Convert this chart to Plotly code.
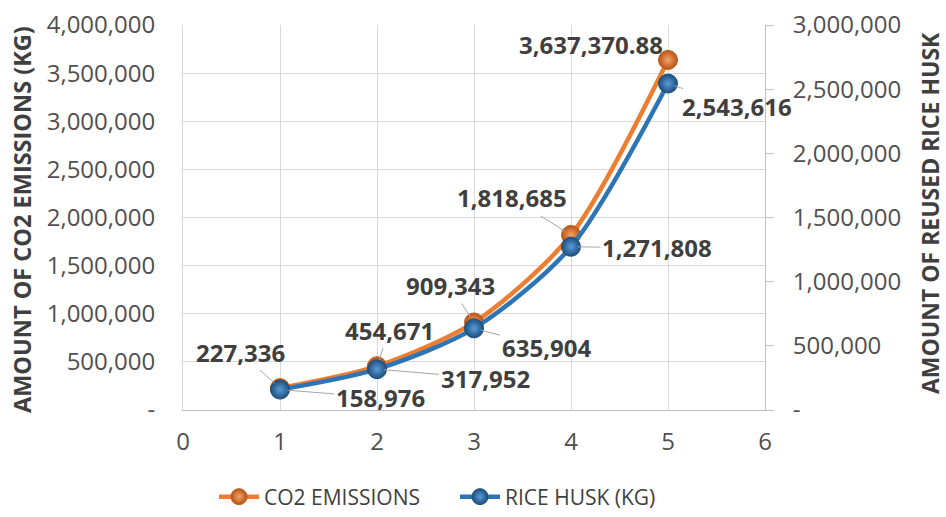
import plotly.graph_objects as go

x_vals = [1, 2, 3, 4, 5]
co2_emissions = [227336, 454671, 909343, 1818685, 3637370.88]
rice_husk = [158976, 317952, 635904, 1271808, 2543616]
co2_labels = ["227,336", "454,671", "909,343", "1,818,685", "3,637,370.88"]
husk_labels = ["158,976", "317,952", "635,904", "1,271,808", "2,543,616"]

left_tickvals = [0, 500000, 1000000, 1500000, 2000000, 2500000, 3000000, 3500000, 4000000]
left_ticktext = ["-", "500,000", "1,000,000", "1,500,000", "2,000,000", "2,500,000",
                 "3,000,000", "3,500,000", "4,000,000"]
right_tickvals = [0, 500000, 1000000, 1500000, 2000000, 2500000, 3000000]
right_ticktext = ["-", "500,000", "1,000,000", "1,500,000", "2,000,000", "2,500,000", "3,000,000"]
x_tickvals = [0, 1, 2, 3, 4, 5, 6]

ORANGE = "#ED7D31"
BLUE = "#2E75B6"
TXT = "#3F3F3F"
TICK = "#505050"
GRID = "#D9D9D9"
FONT = "Open Sans"

W, H = 946, 517
L, T = 183, 25
PW, PH = 582, 385

def px_x(page_x):
    return (page_x - L) / PW

def px_y(page_y):
    return (T + PH - page_y) / PH

fig = go.Figure()
fig.add_trace(go.Scatter(
    x=x_vals, y=co2_emissions, name="CO2 EMISSIONS", mode="lines+markers",
    line=dict(color=ORANGE, width=4.5, shape="spline", smoothing=0.8),
    marker=dict(size=19, color="#B5541A", gradient=dict(type="radial", color="#F6A36A"),
                line=dict(color="#C55A11", width=1)),
    yaxis="y"))
fig.add_trace(go.Scatter(
    x=x_vals, y=rice_husk, name="RICE HUSK (KG)", mode="lines+markers",
    line=dict(color=BLUE, width=4.5, shape="spline", smoothing=0.8),
    marker=dict(size=19, color="#1B4F80", gradient=dict(type="radial", color="#5B9BD5"),
                line=dict(color="#1F4E79", width=1)),
    yaxis="y2"))

co2_offsets = [(-40, -36), (12, -36), (-24, -37), (-59, -37), (-77, -15)]
husk_offsets = [(100, 8), (108, 9), (72, 19), (86, 1), (69, 23)]

annotations = []
for xv, yv, t, (ax, ay) in zip(x_vals, co2_emissions, co2_labels, co2_offsets):
    annotations.append(dict(x=xv, y=yv, xref="x", yref="y", text=t, showarrow=True,
                            arrowhead=0, arrowwidth=1, arrowcolor="#A6A6A6", ax=ax, ay=ay,
                            standoff=7, font=dict(family=FONT, size=24, color=TXT, weight="bold")))
for xv, yv, t, (ax, ay) in zip(x_vals, rice_husk, husk_labels, husk_offsets):
    annotations.append(dict(x=xv, y=yv, xref="x", yref="y2", text=t, showarrow=True,
                            arrowhead=0, arrowwidth=1, arrowcolor="#A6A6A6", ax=ax, ay=ay,
                            standoff=7, font=dict(family=FONT, size=24, color=TXT, weight="bold")))

annotations.append(dict(text="AMOUNT OF CO2 EMISSIONS (KG)", xref="paper", yref="paper",
                        x=px_x(22), y=px_y(220), xanchor="center", yanchor="middle",
                        textangle=-90, showarrow=False,
                        font=dict(family=FONT, size=23.5, color=TXT, weight="bold")))
annotations.append(dict(text="AMOUNT OF REUSED RICE HUSK", xref="paper", yref="paper",
                        x=px_x(930), y=px_y(213), xanchor="center", yanchor="middle",
                        textangle=-90, showarrow=False,
                        font=dict(family=FONT, size=23, color=TXT, weight="bold")))

fig.update_layout(
    width=W, height=H,
    margin=dict(l=L, r=W - L - PW, t=T, b=H - T - PH, autoexpand=False),
    paper_bgcolor="white", plot_bgcolor="white",
    font=dict(family=FONT, color=TICK),
    showlegend=True,
    legend=dict(orientation="h", x=px_x(214), xanchor="left", y=px_y(497), yanchor="middle",
                font=dict(family=FONT, size=21, color=TXT), itemwidth=40,
                entrywidth=186, entrywidthmode="pixels"),
    xaxis=dict(range=[0, 6], tickvals=x_tickvals, showgrid=True, gridcolor=GRID,
               gridwidth=1, zeroline=False, showline=True, linecolor="#BFBFBF", linewidth=1,
               ticks="", tickfont=dict(family=FONT, size=24, color=TICK),
               ticklabelstandoff=10, automargin=False, ticklabeloverflow="allow"),
    yaxis=dict(range=[0, 4000000], tickvals=left_tickvals, ticktext=left_ticktext,
               showgrid=True, gridcolor=GRID, gridwidth=1, zeroline=False, showline=True,
               linecolor="#D9D9D9", ticks="", tickfont=dict(family=FONT, size=24, color=TICK),
               ticklabelstandoff=22, automargin=False, ticklabeloverflow="allow"),
    yaxis2=dict(range=[0, 3000000], tickvals=right_tickvals, ticktext=right_ticktext,
                overlaying="y", side="right", showgrid=False, zeroline=False, showline=True,
                linecolor="#BFBFBF", ticks="outside", ticklen=8, tickcolor="#BFBFBF",
                tickfont=dict(family=FONT, size=24, color=TICK), ticklabelstandoff=14,
                automargin=False, ticklabeloverflow="allow"),
    annotations=annotations,
)

fig.write_html("out.html", config={"displayModeBar": False},
               post_script="document.body.style.margin='0';document.body.style.overflow='hidden';")
